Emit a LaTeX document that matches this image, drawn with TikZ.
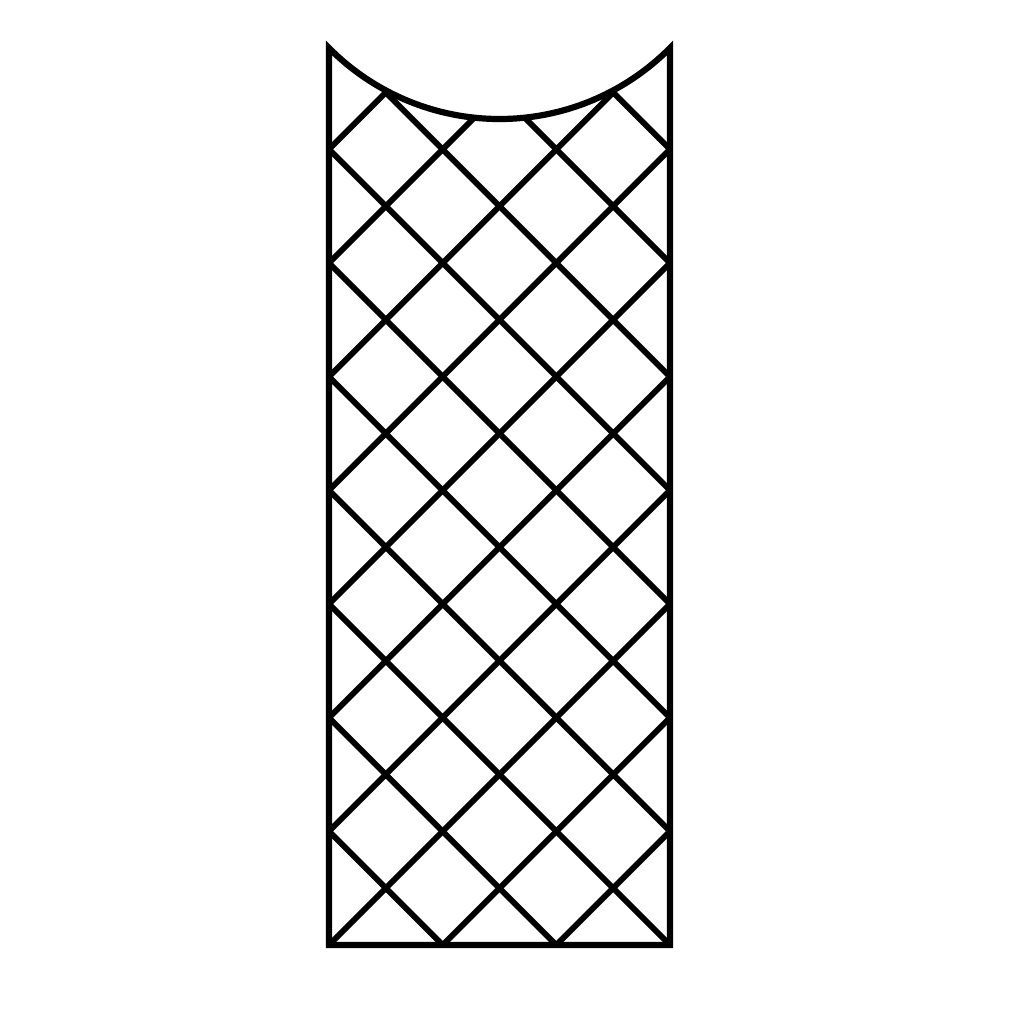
\documentclass[tikz,border=0pt]{standalone}
\begin{document}
\begin{tikzpicture}[x=0.01cm,y=-0.01cm,
  bar/.style={line width=0.058cm, black, line cap=butt},
  frame/.style={line width=0.062cm, black, line join=miter}]
\useasboundingbox (0,0) rectangle (1024,1024);
\fill[white] (0,0) rectangle (1024,1024);
\def\a{113.667}
\foreach \k in {0,...,9}{
  \coordinate (L\k) at (329,{945-\a*\k});
  \coordinate (R\k) at (670,{945-\a*\k});
}
\foreach \j in {0,...,3}{
  \coordinate (B\j) at ({329+\a*\j},945);
}
\coordinate (TL) at (329,48);
\coordinate (VL) at ({329+0.5*\a},{945-7.5*\a});
\coordinate (VR) at ({329+2.5*\a},{945-7.5*\a});
\begin{scope}
  \clip (B0) -- (TL) arc[start angle=135.22, end angle=44.78, radius=240.2] -- (B3) -- cycle;
  % down-right bars
  \draw[bar] (L1)--(B1) (L2)--(B2) (L3)--(B3) (L4)--(R1) (L5)--(R2)
             (L6)--(R3) (L7)--(R4) (VL)--(R5) (L9)--(R6) (VR)--(R7);
  % up-right bars
  \draw[bar] (B2)--(R1) (B1)--(R2) (B0)--(R3) (L1)--(R4) (L2)--(R5)
             (L3)--(R6) (L4)--(R7) (L5)--(VR) (L6)--(R9) (L7)--(VL);
\end{scope}
\draw[frame] (B0) -- (TL) arc[start angle=135.22, end angle=44.78, radius=240.2] -- (B3) -- cycle;
\end{tikzpicture}
\end{document}
